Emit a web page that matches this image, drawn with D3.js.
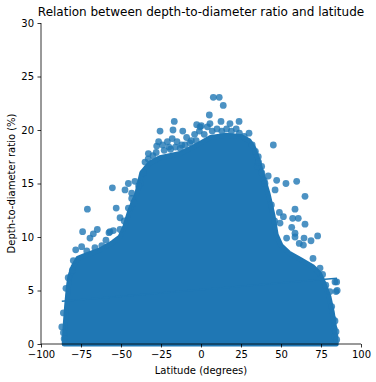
<!DOCTYPE html>
<html>
<head>
<meta charset="utf-8">
<script src="https://cdnjs.cloudflare.com/ajax/libs/d3/7.8.5/d3.min.js"></script>
<style>
    body { margin: 0; background: #fff; }
    text { font-family: "DejaVu Sans", sans-serif; fill: #000; }
    .axis path, .axis line { stroke: #000; stroke-width: 0.8; }
</style>
</head>
<body>
<div id="chart"></div>
<script>
// tick labels
var xTicks = [-100, -75, -50, -25, 0, 25, 50, 75, 100];
var yTicks = [0, 5, 10, 15, 20, 25, 30];

// upper edge of the dense cloud of craters [latitude, ratio]
var denseEdge = [
    [-85.5, 0], [-85, 1.5], [-84, 3.5], [-83, 5.2], [-82, 6.3], [-80, 7.2], [-77, 8.0],
    [-72, 8.3], [-63, 8.8], [-55, 9.5], [-50.6, 10.0], [-47.5, 11.0], [-44.4, 12.5],
    [-40, 14.1], [-37, 16.0], [-32, 16.9], [-25.6, 17.4], [-13, 17.8], [-5, 18.4],
    [0, 18.8], [6, 19.3], [15, 19.5], [25, 19.4], [30, 19.0], [33, 18.3],
    [35, 17.5], [37, 16.5], [39, 15.5], [42, 14.0], [45, 12.0], [47, 10.2], [50, 9.2],
    [55, 8.5], [62, 7.9], [70, 7.2], [74, 6.6], [77, 5.6], [80, 4.4], [82, 3.0],
    [83.5, 1.5], [84.5, 0]
];

// single craters visible around the cloud [latitude, ratio]
var topPoints = [
    [7.7, 23.05], [11.4, 23.05], [13.9, 22.3], [5.2, 21.4], [5.6, 20.6], [-16.7, 20.8],
    [12.5, 20.8], [23.8, 20.8], [-25.6, 19.9], [-17.5, 20.0], [-11.4, 19.9], [-2.7, 20.5],
    [0.2, 20.4], [18.1, 20.6], [-0.6, 20.3], [-26.5, 18.9], [-27.7, 18.5],
    [-32.9, 17.8], [-35, 17.0], [-36, 16.0], [45.2, 18.6], [37.9, 16.6], [35.8, 17.5], [35.2, 16.6],
    [-24, 18.6], [-21, 18.9], [-18, 19.2], [-15, 18.9], [-9, 19.3], [-4, 19.6], [-1, 19.9],
    [2, 19.6], [4, 20.3], [7, 19.9], [10, 20.1], [13, 19.9], [16, 20.1], [19, 19.9],
    [22, 20.1], [24, 19.7], [27, 19.4], [30, 19.7], [32, 18.6], [34, 18.0], [36, 17.0],
    [38, 16.0], [39.5, 15.3], [-20, 18.4], [-12, 18.6], [-6, 19.0], [-30, 17.6], [-38, 15.0],
    [-23, 18.1], [-19, 18.2], [-16, 18.4], [-13, 18.3], [-10, 18.6], [-7, 18.8], [-3, 19.0],
    [-28, 17.9], [-33, 17.3]
];
var southPoints = [
    [-55.4, 14.6], [-45.4, 15.0], [-41.3, 15.2], [-47.5, 14.4], [-43.3, 14.1], [-43.3, 13.6],
    [-53, 12.7], [-45.4, 12.7], [-50.6, 11.8], [-64.8, 10.7], [-56.9, 10.5], [-59.4, 9.7],
    [-71, 12.6], [-74, 10.5], [-54.8, 10.6], [-50.6, 10.7], [-67.3, 10.3], [-69.4, 9.9],
    [-66.3, 9.0], [-74.6, 9.1], [-57.5, 10.4], [-78.3, 8.8], [-71.4, 8.7], [-62, 9.2],
    [-79.8, 7.8], [-80.4, 6.9], [-84.4, 5.2], [-86, 2.9], [-87, 1.6], [-86, 1.05],
    [-85.5, 0.5], [-83, 6.2], [-48, 11.5], [-42, 13.2], [-39, 14.8]
];
var northPoints = [
    [53.1, 15.0], [59.8, 15.2], [65, 13.8], [47.3, 15.3], [42, 15.7], [46.3, 14.4],
    [58.75, 12.6], [49, 12.3], [51.5, 11.9], [57.3, 11.75], [60.8, 11.75], [65, 11.2],
    [49.4, 11.3], [56.7, 10.9], [58.75, 10.35], [64.4, 9.9], [68.75, 9.65], [72.9, 10.1],
    [61.4, 9.4], [53.5, 9.9], [64, 9.25], [58.75, 10.0], [74.4, 7.1], [83.75, 5.8],
    [84.4, 4.9], [80.6, 4.9], [81.7, 3.5], [82.7, 2.3], [83.3, 1.4], [83.75, 0.7],
    [40, 15.0], [44, 13.0], [46, 11.5], [70, 8.0], [76, 6.5], [78, 5.5],
    [84.8, 5.8], [85.1, 5.0], [83.75, 2.15], [84.4, 1.15], [84.8, 0.4]
];

// regression line end points
var fitLine = [[-87, 4.0], [85, 6.15]];

var margin = {top: 23, right: 15, bottom: 38, left: 41};
var width = 376 - margin.left - margin.right;
var height = 382 - margin.top - margin.bottom;
var color = "#1f77b4";

var svg = d3.select("#chart").append("svg")
    .attr("width", 376)
    .attr("height", 382)
    .append("g")
    .attr("transform", "translate(" + margin.left + "," + margin.top + ")");

var x = d3.scaleLinear().domain([-100, 100]).range([0, 320]);
var y = d3.scaleLinear().domain([0, 30]).range([height, 0]);

// dense part of the cloud
var area = d3.area()
    .x(function(d) { return x(d[0]); })
    .y0(y(0))
    .y1(function(d) { return y(d[1]); })
    .curve(d3.curveLinear);

svg.append("path")
    .datum(denseEdge)
    .attr("d", area)
    .style("fill", color)
    .style("stroke", color)
    .style("stroke-width", 5)
    .style("stroke-linejoin", "round");

var points = topPoints.concat(southPoints, northPoints);

svg.selectAll(".dot")
    .data(points)
    .enter().append("circle")
    .attr("class", "dot")
    .attr("cx", function(d) { return x(d[0]); })
    .attr("cy", function(d) { return y(d[1]); })
    .attr("r", 3.4)
    .style("fill", color)
    .style("opacity", 0.8);

svg.append("path")
    .datum(fitLine)
    .attr("d", d3.line().x(function(d) { return x(d[0]); }).y(function(d) { return y(d[1]); }))
    .style("fill", "none")
    .style("stroke", color)
    .style("stroke-width", 1.5);

// axes
var xAxis = d3.axisBottom(x).tickValues(xTicks).tickSize(3.5).tickPadding(3.5)
    .tickFormat(function(d) { return d < 0 ? "\u2212" + Math.abs(d) : d; });
var yAxis = d3.axisLeft(y).tickValues(yTicks).tickSize(3.5).tickPadding(3.5);

svg.append("g")
    .attr("class", "x axis")
    .attr("transform", "translate(0," + height + ")")
    .call(xAxis);

svg.append("g")
    .attr("class", "y axis")
    .call(yAxis);

svg.selectAll(".axis text").style("font-size", "10px");
svg.selectAll(".axis .domain").attr("d", function() {
    return d3.select(this.parentNode).classed("x") ? "M0,0H320" : "M0," + height + "V0";
});

svg.append("text")
    .attr("x", 160)
    .attr("y", -7)
    .style("text-anchor", "middle")
    .style("font-size", "12px")
    .text("Relation between depth-to-diameter ratio and latitude");

svg.append("text")
    .attr("x", 160)
    .attr("y", height + 30)
    .style("text-anchor", "middle")
    .style("font-size", "10px")
    .text("Latitude (degrees)");

svg.append("text")
    .attr("transform", "rotate(-90)")
    .attr("x", -height / 2)
    .attr("y", -26)
    .style("text-anchor", "middle")
    .style("font-size", "10px")
    .text("Depth-to-diameter ratio (%)");
</script>
</body>
</html>
